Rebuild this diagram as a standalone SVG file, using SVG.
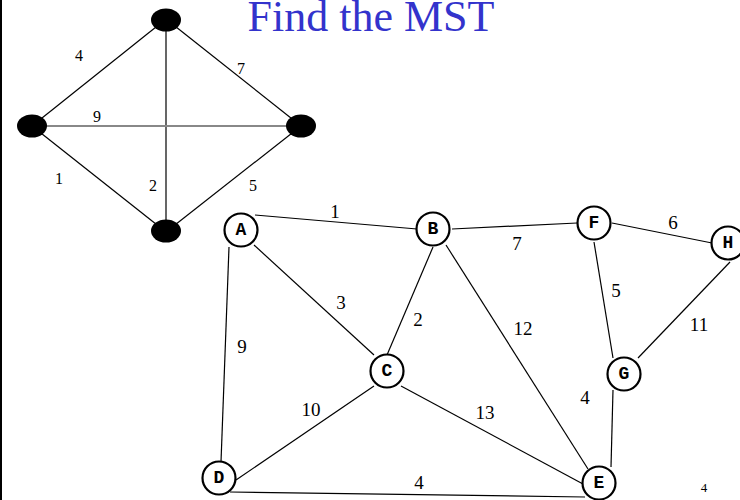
<svg xmlns="http://www.w3.org/2000/svg" width="740" height="500" viewBox="0 0 740 500">
<style>
.e{stroke:#000;stroke-width:1.2;fill:none}
.n{fill:#fff;stroke:#000;stroke-width:2.2}
.dot{fill:#000}
.nl{font-family:"Liberation Mono",monospace;font-weight:bold;font-size:18px;text-anchor:middle}
.w{font-family:"Liberation Serif",serif;font-size:19px;text-anchor:middle}
.ws{font-family:"Liberation Serif",serif;font-size:16px;text-anchor:middle}
</style>
<rect x="0" y="0" width="740" height="500" fill="#fff"/>
<line x1="1" y1="0" x2="1" y2="500" stroke="#000" stroke-width="2"/>
<text x="371" y="31" font-family="Liberation Serif,serif" font-size="44" fill="#3333cc" text-anchor="middle">Find the MST</text>
<g id="connectors">
<line class="e" x1="32" y1="126" x2="166" y2="19"/>
<line class="e" x1="166" y1="19" x2="301" y2="126"/>
<line class="e" x1="32" y1="126" x2="166" y2="232"/>
<line class="e" x1="166" y1="232" x2="301" y2="126"/>
<line class="e" x1="166" y1="19" x2="166" y2="232"/>
<line x1="32" y1="126" x2="301" y2="126" stroke="#888" stroke-width="2"/>
<line class="e" x1="255" y1="215" x2="417" y2="229"/>
<line class="e" x1="254" y1="245" x2="374" y2="355"/>
<line class="e" x1="229" y1="247" x2="221" y2="462"/>
<line class="e" x1="433" y1="247" x2="387" y2="355"/>
<line class="e" x1="446" y1="245" x2="588" y2="469"/>
<line class="e" x1="452" y1="229" x2="577" y2="223"/>
<line class="e" x1="612" y1="223" x2="712" y2="243"/>
<line class="e" x1="594" y1="242" x2="613" y2="358"/>
<line class="e" x1="730" y1="262" x2="638" y2="358"/>
<line class="e" x1="613" y1="390" x2="611" y2="467"/>
<line class="e" x1="374" y1="386" x2="236" y2="480"/>
<line class="e" x1="401" y1="386" x2="583" y2="484"/>
<line class="e" x1="230" y1="492" x2="585" y2="497"/>
</g>
<g id="t1"><ellipse class="dot" cx="166" cy="20" rx="15" ry="11.5"/></g>
<g id="t2"><ellipse class="dot" cx="32" cy="126" rx="15" ry="11.5"/></g>
<g id="t3"><ellipse class="dot" cx="301" cy="126" rx="15" ry="11.5"/></g>
<g id="t4"><ellipse class="dot" cx="166" cy="231" rx="15" ry="11.5"/></g>
<g id="tlabels">
<text class="ws" x="79" y="61">4</text>
<text class="ws" x="241" y="74">7</text>
<text class="ws" x="97" y="122">9</text>
<text class="ws" x="59" y="184">1</text>
<text class="ws" x="153" y="191">2</text>
<text class="ws" x="253" y="191">5</text>
</g>
<g id="A"><circle class="n" cx="241" cy="230" r="16.5"/><text class="nl" x="241" y="235">A</text></g>
<g id="B"><circle class="n" cx="433" cy="229" r="16.5"/><text class="nl" x="433" y="234">B</text></g>
<g id="C"><circle class="n" cx="387" cy="371" r="16.5"/><text class="nl" x="387" y="376">C</text></g>
<g id="D"><circle class="n" cx="219" cy="478" r="16.5"/><text class="nl" x="219" y="483">D</text></g>
<g id="E"><circle class="n" cx="599" cy="483" r="16.5"/><text class="nl" x="599" y="488">E</text></g>
<g id="F"><circle class="n" cx="594" cy="223" r="16.5"/><text class="nl" x="594" y="228">F</text></g>
<g id="G"><circle class="n" cx="624" cy="374" r="16.5"/><text class="nl" x="624" y="379">G</text></g>
<g id="H"><circle class="n" cx="728" cy="243" r="16.5"/><text class="nl" x="728" y="248">H</text></g>
<g id="wlabels">
<text class="w" x="335" y="218">1</text>
<text class="w" x="341" y="309">3</text>
<text class="w" x="418" y="326">2</text>
<text class="w" x="242" y="353">9</text>
<text class="w" x="517" y="250">7</text>
<text class="w" x="673" y="229">6</text>
<text class="w" x="616" y="297">5</text>
<text class="w" x="523" y="335">12</text>
<text class="w" x="699" y="331">11</text>
<text class="w" x="311" y="416">10</text>
<text class="w" x="485" y="419">13</text>
<text class="w" x="585" y="404">4</text>
<text class="w" x="419" y="489">4</text>
</g>
<text x="704" y="492" font-family="Liberation Serif,serif" font-size="13" text-anchor="middle">4</text>
</svg>
